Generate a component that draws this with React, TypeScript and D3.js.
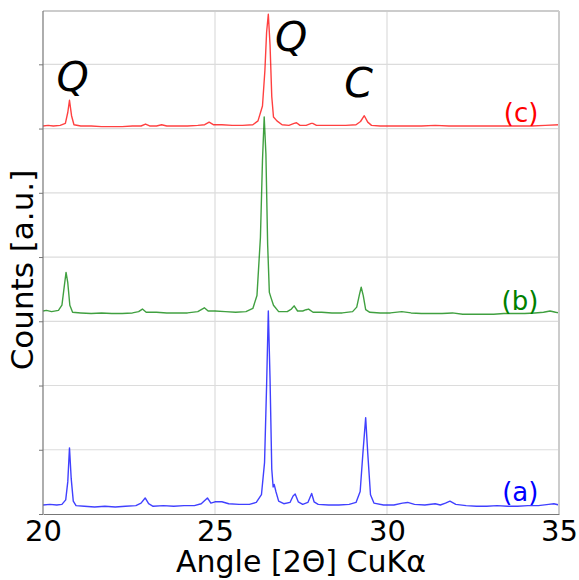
import * as d3 from 'd3';
import { useEffect, useRef } from 'react';

type Pt = [number, number];

// trace (a) - bottom, blue
const traceA: Pt[] = [
  [20.0, 0.14], [20.2, 0.15], [20.4, 0.14], [20.55, 0.15], [20.66, 0.22], [20.72, 0.5],
  [20.77, 1.03], [20.82, 0.55], [20.88, 0.2], [20.96, 0.13], [21.2, 0.12], [21.5, 0.11],
  [21.8, 0.12], [22.1, 0.11], [22.4, 0.12], [22.7, 0.13], [22.85, 0.17], [22.97, 0.25],
  [23.07, 0.16], [23.2, 0.12], [23.5, 0.13], [23.8, 0.12], [24.1, 0.13], [24.4, 0.13],
  [24.6, 0.16], [24.78, 0.25], [24.88, 0.17], [25.0, 0.19], [25.2, 0.19], [25.4, 0.16],
  [25.7, 0.15], [26.0, 0.15], [26.2, 0.18], [26.35, 0.3], [26.44, 0.8], [26.5, 2.0],
  [26.55, 3.16], [26.6, 2.1], [26.65, 0.7], [26.69, 0.42], [26.72, 0.46], [26.77, 0.35],
  [26.85, 0.2], [27.0, 0.16], [27.18, 0.18], [27.27, 0.28], [27.33, 0.31], [27.42, 0.19],
  [27.55, 0.15], [27.7, 0.18], [27.81, 0.32], [27.88, 0.19], [28.0, 0.15], [28.3, 0.14],
  [28.6, 0.14], [28.9, 0.15], [29.1, 0.18], [29.22, 0.35], [29.3, 0.95], [29.38, 1.5],
  [29.44, 0.95], [29.52, 0.3], [29.62, 0.17], [29.9, 0.14], [30.2, 0.14], [30.45, 0.17],
  [30.6, 0.18], [30.8, 0.15], [31.1, 0.14], [31.4, 0.16], [31.55, 0.14], [31.7, 0.17],
  [31.83, 0.2], [32.0, 0.15], [32.3, 0.13], [32.6, 0.12], [32.9, 0.12], [33.2, 0.13],
  [33.5, 0.12], [33.8, 0.12], [34.1, 0.13], [34.4, 0.13], [34.7, 0.15], [34.85, 0.16],
  [35.0, 0.14],
];

// trace (b) - middle, green
const traceB: Pt[] = [
  [20.0, 3.16], [20.1, 3.17], [20.25, 3.15], [20.45, 3.17], [20.55, 3.25], [20.62, 3.55],
  [20.67, 3.76], [20.72, 3.6], [20.78, 3.25], [20.86, 3.14], [21.1, 3.13], [21.4, 3.12],
  [21.7, 3.13], [22.0, 3.12], [22.3, 3.12], [22.6, 3.13], [22.78, 3.15], [22.89, 3.19],
  [23.0, 3.14], [23.3, 3.14], [23.6, 3.13], [23.9, 3.13], [24.2, 3.13], [24.5, 3.15],
  [24.69, 3.21], [24.8, 3.16], [25.0, 3.16], [25.3, 3.15], [25.6, 3.14], [25.9, 3.15],
  [26.1, 3.2], [26.22, 3.4], [26.32, 4.3], [26.38, 5.5], [26.43, 6.18], [26.48, 5.6],
  [26.53, 4.2], [26.58, 3.45], [26.62, 3.38], [26.7, 3.25], [26.85, 3.15], [27.1, 3.15],
  [27.22, 3.19], [27.3, 3.24], [27.4, 3.16], [27.55, 3.16], [27.65, 3.18], [27.72, 3.19],
  [27.85, 3.14], [28.1, 3.14], [28.4, 3.13], [28.7, 3.13], [29.0, 3.15], [29.12, 3.22],
  [29.2, 3.42], [29.25, 3.53], [29.31, 3.4], [29.38, 3.18], [29.5, 3.14], [29.8, 3.13],
  [30.1, 3.13], [30.43, 3.15], [30.7, 3.13], [31.0, 3.12], [31.3, 3.12], [31.6, 3.12],
  [31.9, 3.13], [32.2, 3.11], [32.5, 3.11], [32.8, 3.11], [33.1, 3.11], [33.4, 3.12],
  [33.7, 3.12], [34.0, 3.12], [34.3, 3.13], [34.55, 3.14], [34.74, 3.16], [34.9, 3.14],
  [35.0, 3.13],
];

// trace (c) - top, red
const traceC: Pt[] = [
  [20.0, 6.04], [20.15, 6.05], [20.3, 6.04], [20.5, 6.05], [20.65, 6.08], [20.72, 6.25],
  [20.77, 6.44], [20.83, 6.2], [20.9, 6.06], [21.1, 6.04], [21.4, 6.04], [21.7, 6.03],
  [22.0, 6.03], [22.3, 6.03], [22.6, 6.04], [22.85, 6.04], [22.98, 6.07], [23.1, 6.04],
  [23.3, 6.04], [23.45, 6.06], [23.6, 6.04], [23.9, 6.04], [24.2, 6.04], [24.5, 6.05],
  [24.7, 6.06], [24.83, 6.1], [24.95, 6.06], [25.2, 6.06], [25.5, 6.05], [25.8, 6.05],
  [26.1, 6.06], [26.25, 6.12], [26.38, 6.35], [26.45, 6.9], [26.5, 7.5], [26.55, 7.78],
  [26.6, 7.3], [26.65, 6.5], [26.7, 6.18], [26.8, 6.12], [26.95, 6.06], [27.15, 6.05],
  [27.3, 6.08], [27.37, 6.09], [27.47, 6.05], [27.65, 6.05], [27.8, 6.08], [27.84, 6.08],
  [27.95, 6.05], [28.2, 6.05], [28.5, 6.05], [28.8, 6.05], [29.1, 6.06], [29.23, 6.11],
  [29.34, 6.2], [29.44, 6.1], [29.55, 6.05], [29.8, 6.04], [30.2, 6.04], [30.6, 6.04],
  [31.0, 6.04], [31.4, 6.05], [31.8, 6.04], [32.2, 6.04], [32.6, 6.04], [33.0, 6.04],
  [33.4, 6.04], [33.8, 6.04], [34.2, 6.04], [34.6, 6.05], [35.0, 6.06],
];

const seriesLabels = ['(a)', '(b)', '(c)'];
const seriesColors = ['#0000ff', '#008000', '#ff0000'];
const labelAngle = 34.4;
const labelLevels = [0.2, 3.17, 6.1];

// phase annotations above peaks
const phaseLabels = ['Q', 'Q', 'C'];
const phaseAngles = [20.86, 27.21, 29.17];
const phaseLevels = [6.59, 7.21, 6.49];

const xTicks = [20, 25, 30, 35];
const yTicks = [0, 1, 2, 3, 4, 5, 6, 7];

const Chart = () => {
  const svgRef = useRef<SVGSVGElement | null>(null);

  useEffect(() => {
    const width = 579;
    const height = 580;
    const margin = { top: 11, right: 20, bottom: 66, left: 43 };
    const font = 'DejaVu Sans, sans-serif';

    const x = d3.scaleLinear().domain([20, 35]).range([margin.left, width - margin.right]);
    const y = d3.scaleLinear().domain([0, 7.83]).range([height - margin.bottom, margin.top]);

    const svg = d3.select(svgRef.current)
      .attr('width', width)
      .attr('height', height)
      .style('position', 'absolute')
      .style('left', '0px')
      .style('top', '0px');
    svg.selectAll('*').remove();

    const x0 = margin.left;
    const x1 = width - margin.right;
    const y0 = height - margin.bottom;
    const y1 = margin.top;

    // grid
    svg.append('g')
      .selectAll('line')
      .data(yTicks.slice(1))
      .join('line')
      .attr('x1', x0).attr('x2', x1)
      .attr('y1', (d) => y(d)).attr('y2', (d) => y(d))
      .attr('stroke', '#dcdcdc').attr('stroke-width', 1.2);
    svg.append('g')
      .selectAll('line')
      .data(xTicks.slice(1, -1))
      .join('line')
      .attr('x1', (d) => x(d)).attr('x2', (d) => x(d))
      .attr('y1', y0).attr('y2', y1)
      .attr('stroke', '#dcdcdc').attr('stroke-width', 1.2);

    // traces
    const line = d3.line<Pt>().x((d) => x(d[0])).y((d) => y(d[1]));
    [traceA, traceB, traceC].forEach((t, i) => {
      svg.append('path')
        .datum(t)
        .attr('fill', 'none')
        .attr('stroke', seriesColors[i])
        .attr('stroke-opacity', 0.75)
        .attr('stroke-width', 1.4)
        .attr('stroke-linejoin', 'round')
        .attr('d', line);
    });

    // frame
    svg.append('line').attr('x1', x0).attr('x2', x1).attr('y1', y1).attr('y2', y1)
      .attr('stroke', '#cccccc').attr('stroke-width', 2);
    svg.append('line').attr('x1', x1).attr('x2', x1).attr('y1', y1).attr('y2', y0)
      .attr('stroke', '#cccccc').attr('stroke-width', 2);

    // axes
    const xAxis = svg.append('g')
      .attr('transform', `translate(0,${y0})`)
      .call(d3.axisBottom(x).tickValues(xTicks).tickSize(0).tickPadding(6).tickFormat(d3.format('d')));
    xAxis.select('.domain').attr('stroke', '#777').attr('stroke-width', 1.2);
    xAxis.selectAll('text').attr('font-family', font).attr('font-size', 29).attr('fill', '#000');

    const yAxis = svg.append('g')
      .attr('transform', `translate(${x0},0)`)
      .call(d3.axisLeft(y).tickValues(yTicks).tickSize(4).tickFormat(() => ''));
    yAxis.select('.domain').attr('stroke', '#777').attr('stroke-width', 1.2)
      .attr('d', `M0,${y0}V${y1}`);
    yAxis.selectAll('.tick line').attr('stroke', '#777');

    // axis titles
    svg.append('text')
      .attr('x', 301)
      .attr('y', 572)
      .attr('text-anchor', 'middle')
      .attr('font-family', font)
      .attr('font-size', 30)
      .text('Angle [2Θ] CuKα');
    svg.append('text')
      .attr('transform', 'translate(33,270) rotate(-90)')
      .attr('text-anchor', 'middle')
      .attr('font-family', font)
      .attr('font-size', 31)
      .text('Counts [a.u.]');

    // series labels
    seriesLabels.forEach((s, i) => {
      svg.append('text')
        .attr('x', x(labelAngle))
        .attr('y', y(labelLevels[i]))
        .attr('text-anchor', 'end')
        .attr('font-family', font)
        .attr('font-size', 26)
        .attr('fill', seriesColors[i])
        .text(s);
    });

    // phase labels
    phaseLabels.forEach((s, i) => {
      svg.append('text')
        .attr('x', x(phaseAngles[i]))
        .attr('y', y(phaseLevels[i]))
        .attr('text-anchor', 'middle')
        .attr('font-family', font)
        .attr('font-style', 'italic')
        .attr('font-size', 41)
        .text(s);
    });
  }, []);

  return <svg ref={svgRef}></svg>;
};

export default function App() {
  return <Chart />;
}
